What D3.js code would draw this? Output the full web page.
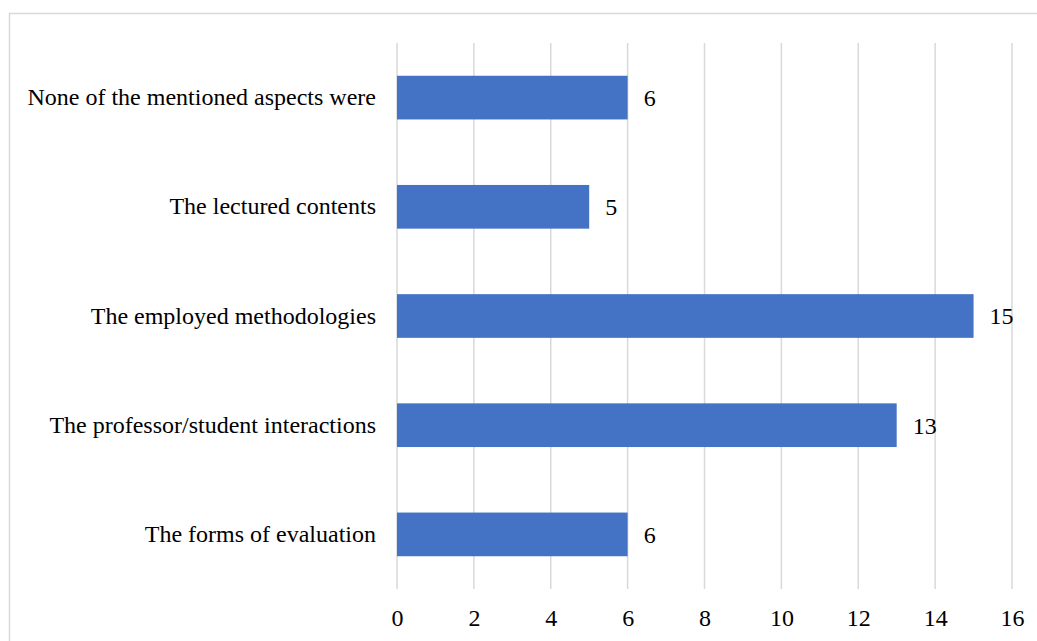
<!DOCTYPE html>
<html>
<head>
<meta charset="utf-8">
<script src="https://cdn.jsdelivr.net/npm/d3@7"></script>
<style>
  html, body { margin: 0; padding: 0; background: #fff; }
  svg { display: block; }
  text { font-family: "Liberation Serif", "Times New Roman", serif; fill: #000; }
</style>
</head>
<body>
<svg id="chart" width="1037" height="641"></svg>
<script>
// Survey answers, listed top to bottom as they appear
const categories = [
  "None of the mentioned aspects were",
  "The lectured contents",
  "The employed methodologies",
  "The professor/student interactions",
  "The forms of evaluation"
];
const counts = [6, 5, 15, 13, 6];
const xTicks = [0, 2, 4, 6, 8, 10, 12, 14, 16];

const svg = d3.select("#chart");
const W = 1037, H = 641;
const FONT = '"Liberation Serif", "Times New Roman", serif';
const FS = 24;

// Chart frame
svg.append("rect")
  .attr("x", 9.5).attr("y", 13.5)
  .attr("width", W + 20).attr("height", H + 20)
  .attr("fill", "#fff")
  .attr("stroke", "#d9d9d9").attr("stroke-width", 1.5);

const plot = { left: 397, right: 1012, top: 43, bottom: 589 };

const x = d3.scaleLinear().domain([0, 16]).range([plot.left, plot.right]);
const y = d3.scaleBand().domain(categories)
  .range([plot.top, plot.bottom])
  .paddingInner(0.6).paddingOuter(0.3);

// Vertical gridlines
svg.append("g")
  .selectAll("line")
  .data(xTicks)
  .join("line")
  .attr("x1", d => x(d)).attr("x2", d => x(d))
  .attr("y1", plot.top).attr("y2", plot.bottom)
  .attr("stroke", "#d9d9d9").attr("stroke-width", 1.5);

// Bars
svg.append("g")
  .selectAll("rect")
  .data(categories)
  .join("rect")
  .attr("x", x(0))
  .attr("y", d => y(d))
  .attr("width", (d, i) => x(counts[i]) - x(0))
  .attr("height", y.bandwidth())
  .attr("fill", "#4472C4");

// Value labels
svg.append("g")
  .selectAll("text")
  .data(categories)
  .join("text")
  .attr("x", (d, i) => x(counts[i]) + 16)
  .attr("y", d => y(d) + y.bandwidth() / 2)
  .attr("dy", "0.35em")
  .attr("font-size", FS)
  .style("font-family", FONT)
  .text((d, i) => counts[i]);

// Category axis (labels only)
const yAxis = svg.append("g")
  .attr("transform", `translate(${plot.left},0)`)
  .call(d3.axisLeft(y).tickSize(0).tickPadding(21));
yAxis.select(".domain").remove();
yAxis.selectAll("text")
  .attr("font-size", FS)
  .style("font-family", FONT)
  .attr("fill", "#000");

// Value axis (labels only)
const xAxis = svg.append("g")
  .attr("transform", `translate(0,${plot.bottom})`)
  .call(d3.axisBottom(x).tickValues(xTicks).tickSize(0).tickPadding(20));
xAxis.select(".domain").remove();
xAxis.selectAll("text")
  .attr("font-size", FS)
  .style("font-family", FONT)
  .attr("fill", "#000");
</script>
</body>
</html>
